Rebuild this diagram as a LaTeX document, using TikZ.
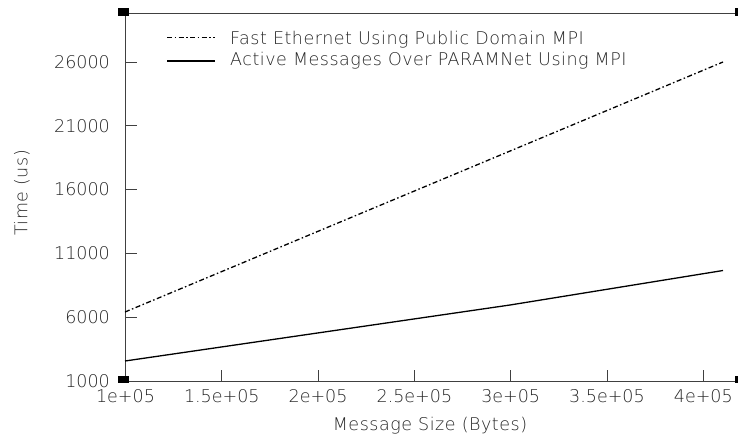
\documentclass[tikz,border=0pt]{standalone}
\usepackage{fontspec}
\setmainfont{DejaVu Sans ExtraLight}
\newfontfamily\widetext[LetterSpace=3]{DejaVu Sans ExtraLight}
\begin{document}
\begin{tikzpicture}[x=1pt,y=-1pt,
  lbl/.style={font=\fontsize{17.5}{20}\selectfont, text=black!85, inner sep=0pt},
  wlbl/.style={font=\widetext\fontsize{17.5}{20}\selectfont, text=black!85, inner sep=0pt},
  axisline/.style={draw=black!75, line width=0.9pt},
  tickline/.style={draw=black!75, line width=0.9pt},
  corner/.style={fill=black, draw=none},
  dataA/.style={draw=black, line width=1.3pt, dash pattern=on 5pt off 2.5pt on 1.5pt off 2.5pt},
  dataB/.style={draw=black, line width=1.3pt}]
\useasboundingbox (0,0) rectangle (738,439);
% frame
\coordinate (tl) at (125,13);
\coordinate (bl) at (125,381);
\coordinate (tr) at (740,13);
\coordinate (br) at (740,381);
\draw[axisline] (tl) -- (bl) -- (br);
\draw[axisline] (tl) -- (tr);
\fill[corner] (118,8) rectangle (129,16);
\fill[corner] (118,376) rectangle (129,383);
\fill[corner] (735,8) rectangle (745,16);
\fill[corner] (735,376) rectangle (745,383);
% x ticks
\foreach \v/\t [count=\i] in {1/1e+05,1.5/1.5e+05,2/2e+05,2.5/2.5e+05,3/3e+05,3.5/3.5e+05,4/4e+05}{
  \pgfmathsetmacro{\xx}{125.5+(\v-1)*192.6}
  \coordinate (xt\i) at (\xx,381);
  \coordinate (xu\i) at (\xx,370);
  \ifnum\i>1 \draw[tickline] (xt\i) -- (xu\i);\fi
  \node[lbl, anchor=center] (xl\i) at (\xx,396) {\t};
}
% y ticks
\foreach \k [count=\i] in {1,6,11,16,21,26}{
  \pgfmathsetmacro{\yy}{381-(\k-1)/5*63.8}
  \coordinate (yt\i) at (125,\yy);
  \coordinate (yu\i) at (137,\yy);
  \ifnum\i>1 \draw[tickline] (yt\i) -- (yu\i);\fi
  \node[lbl, anchor=east] (yl\i) at (110,\yy) {\k000};
}
% axis titles
\node[wlbl] (xtitle) at (430,426) {Message Size (Bytes)};
\node[wlbl, rotate=90] (ytitle) at (22,193) {Time (us)};
% legend
\coordinate (la1) at (167,37);
\coordinate (la2) at (215,37);
\coordinate (lb1) at (167,61);
\coordinate (lb2) at (215,61);
\draw[dataA, line width=1pt] (la1) -- (la2);
\draw[dataB] (lb1) -- (lb2);
\node[wlbl, anchor=west] (ltA) at (230,40) {Fast Ethernet Using Public Domain MPI};
\node[wlbl, anchor=west] (ltB) at (230,61) {Active Messages Over PARAMNet Using MPI};
% data
\coordinate (a1) at (125,312);
\coordinate (a2) at (723,62);
\draw[dataA] (a1) -- (a2);
\coordinate (b1) at (125,361);
\coordinate (b2) at (510,305);
\coordinate (b3) at (723,270.5);
\draw[dataB] (b1) -- (b2) -- (b3);
\end{tikzpicture}
\end{document}
